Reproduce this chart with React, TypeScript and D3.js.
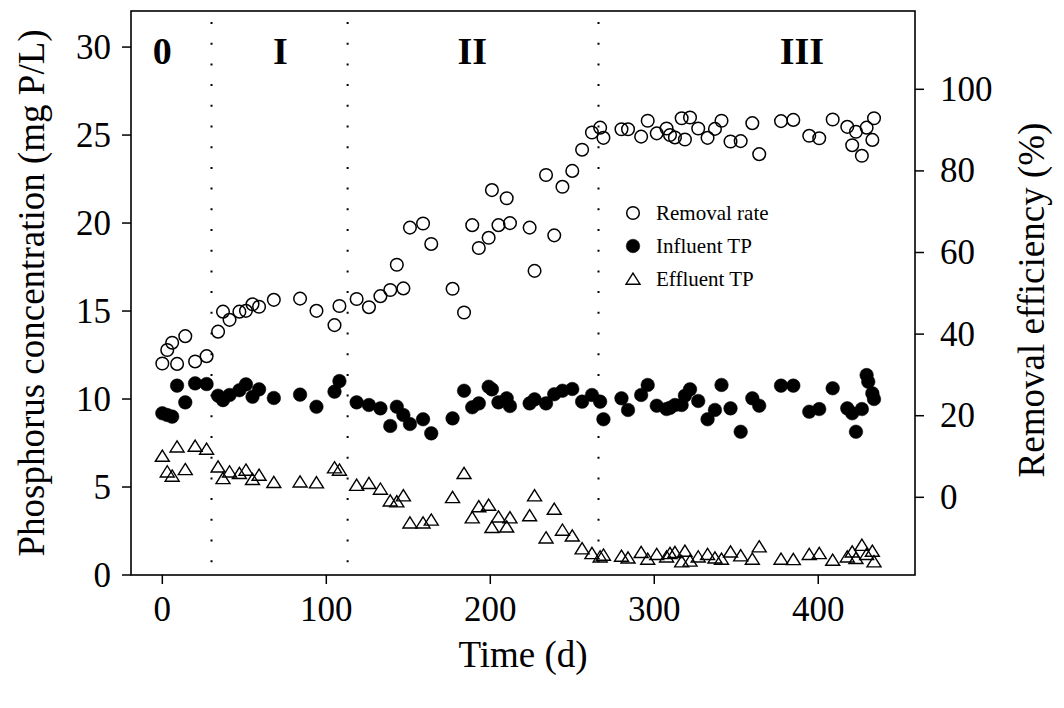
import React from "react";
import * as d3 from "d3";

const days = [0, 3, 6, 9, 14, 20, 27, 34, 37, 41, 47, 51, 55, 59, 68, 84, 94, 105, 108, 118.5,
  126, 133, 139, 143, 147, 151, 159, 164, 177, 184, 189, 193, 199, 201, 205, 210, 212, 224, 227, 234,
  239, 244, 250, 256, 262, 267, 269, 280, 284, 292, 296, 301.5, 307.5, 309.6, 312.6, 316.7, 318.7, 321.8, 326.8, 332.5,
  337, 341, 346.5, 352.7, 359.8, 364, 377.3, 384.8, 394.5, 400.6, 408.8, 417.7, 420.7, 423, 426.6, 429.5, 430.5, 433, 434];

const removalRate = [32.8, 36.1, 37.9, 32.7, 39.5, 33.3, 34.6, 40.6, 45.5, 43.5, 45.5, 45.7, 47.3, 46.7, 48.4, 48.7, 45.7, 42.2, 46.9, 48.6,
  46.6, 49.3, 50.8, 57.0, 51.2, 66.1, 67.1, 62.1, 51.1, 45.3, 66.7, 61.1, 63.6, 75.3, 66.7, 73.3, 67.2, 66.1, 55.5, 79.0,
  64.2, 76.1, 80.0, 85.2, 89.4, 90.6, 88.1, 90.2, 90.2, 88.4, 92.3, 89.2, 90.4, 88.8, 88.2, 92.9, 87.7, 93.1, 90.4, 88.1,
  90.3, 92.3, 87.2, 87.3, 91.7, 84.1, 92.2, 92.5, 88.6, 88.0, 92.6, 90.8, 86.3, 89.6, 83.7, 90.6, NaN, 87.6, 92.9];

const influentTP = [9.19, 9.09, 9.0, 10.76, 9.81, 10.89, 10.85, 10.19, 9.94, 10.23, 10.5, 10.83, 10.13, 10.55, 10.06, 10.25, 9.56, 10.42, 11.02, 9.81,
  9.66, 9.47, 8.47, 9.56, 9.09, 8.58, 8.85, 8.05, 8.9, 10.47, 9.53, 9.75, 10.7, 10.55, 9.81, 10.04, 9.6, 9.75, 9.98, 9.75,
  10.27, 10.47, 10.57, 9.85, 10.23, 9.85, 8.85, 10.04, 9.38, 10.23, 10.8, 9.62, 9.43, 9.5, 9.66, 9.66, 10.19, 10.55, 9.89, 8.85,
  9.38, 10.8, 9.47, 8.14, 10.04, 9.62, 10.76, 10.76, 9.28, 9.43, 10.61, 9.47, 9.19, 8.14, 9.43, 11.36, 10.98, 10.32, 10.0];

const effluentTP = [6.76, 5.87, 5.63, 7.29, 6.0, 7.33, 7.16, 6.15, 5.49, 5.87, 5.78, 5.97, 5.44, 5.68, 5.27, 5.3, 5.25, 6.1, 5.97, 5.11,
  5.21, 4.89, 4.22, 4.17, 4.51, 2.97, 2.97, 3.13, 4.41, 5.78, 3.26, 3.89, 3.98, 2.71, 3.31, 2.74, 3.26, 3.38, 4.51, 2.12,
  3.75, 2.56, 2.23, 1.5, 1.23, 1.04, 1.14, 1.08, 0.98, 1.29, 0.91, 1.18, 1.04, 1.23, 1.29, 0.76, 1.36, 0.8, 1.04, 1.18,
  0.98, 0.91, 1.32, 1.1, 0.91, 1.61, 0.91, 0.89, 1.18, 1.23, 0.85, 1.04, 1.32, 0.95, 1.7, 1.18, NaN, 1.36, 0.76];

const phaseBounds = [30, 113, 266];
const phaseLabels = ["0", "I", "II", "III"];
const phaseLabelDays = [0, 72, 189, 390];
const xTicks = [0, 100, 200, 300, 400];
const yLeftTicks = [0, 5, 10, 15, 20, 25, 30];
const yRightTicks = [0, 20, 40, 60, 80, 100];
const legendLabels = ["Removal rate", "Influent TP", "Effluent TP"];

const FONT = "'Times New Roman', 'Liberation Serif', serif";

const W = 1064, H = 708;
const L = 131, R = 915, T = 11, B = 575;

function Marker({ kind, x, y }: { kind: number; x: number; y: number }) {
  if (kind === 0) return <circle cx={x} cy={y} r={6.3} fill="none" stroke="#000" strokeWidth={1.5} />;
  if (kind === 1) return <circle cx={x} cy={y} r={6.8} fill="#000" stroke="#000" strokeWidth={0.5} />;
  const s = 7;
  const p = d3.path();
  p.moveTo(x, y - s * 0.85);
  p.lineTo(x + s, y + s * 0.75);
  p.lineTo(x - s, y + s * 0.75);
  p.closePath();
  return <path d={p.toString()} fill="none" stroke="#000" strokeWidth={1.4} />;
}

export default function App() {
  const x = d3.scaleLinear().domain([-19.1, 459]).range([L, R]);
  const yL = d3.scaleLinear().domain([0, 32.05]).range([B, T]);
  const yR = d3.scaleLinear().domain([-19.04, 119.19]).range([B, T]);

  const tickFont = 35;

  return (
    <svg width={W} height={H} style={{ position: "absolute", left: 0, top: 0, background: "#fff" }} fontFamily={FONT}>
      <rect x={0} y={0} width={W} height={H} fill="#fff" />
      {/* phase dividers */}
      {phaseBounds.map((d) => (
        <line key={d} x1={x(d)} x2={x(d)} y1={T + 11} y2={B} stroke="#000" strokeWidth={2} strokeDasharray="2 18.7" />
      ))}
      {phaseLabels.map((t, i) => (
        <text key={t} x={x(phaseLabelDays[i])} y={yL(29.75)} textAnchor="middle" dominantBaseline="central"
          fontSize={38} fontWeight="bold">{t}</text>
      ))}
      {/* frame */}
      <rect x={L} y={T} width={R - L} height={B - T} fill="none" stroke="#000" strokeWidth={1.6} />
      {/* bottom axis */}
      {xTicks.map((t) => (
        <g key={t}>
          <line x1={x(t)} x2={x(t)} y1={B} y2={B + 9} stroke="#000" strokeWidth={1.5} />
          <text x={x(t)} y={B + 46} textAnchor="middle" fontSize={tickFont}>{t}</text>
        </g>
      ))}
      {/* left axis */}
      {yLeftTicks.map((t) => (
        <g key={t}>
          <line x1={L - 9} x2={L} y1={yL(t)} y2={yL(t)} stroke="#000" strokeWidth={1.5} />
          <text x={L - 20} y={yL(t)} textAnchor="end" dominantBaseline="central" fontSize={tickFont}>{t}</text>
        </g>
      ))}
      {/* right axis */}
      {yRightTicks.map((t) => (
        <g key={t}>
          <line x1={R} x2={R + 9} y1={yR(t)} y2={yR(t)} stroke="#000" strokeWidth={1.5} />
          <text x={R + 25} y={yR(t)} textAnchor="start" dominantBaseline="central" fontSize={tickFont}>{t}</text>
        </g>
      ))}
      {/* axis titles */}
      <text x={(L + R) / 2} y={667} textAnchor="middle" fontSize={37}>Time (d)</text>
      <text transform={`translate(31, ${(T + B) / 2}) rotate(-90)`} textAnchor="middle" dominantBaseline="central" fontSize={37}>
        Phosphorus concentration (mg P/L)
      </text>
      <text transform={`translate(1031, 300) rotate(-90)`} textAnchor="middle" dominantBaseline="central" fontSize={37}>
        Removal efficiency (%)
      </text>
      {/* data */}
      {days.map((d, i) => isNaN(effluentTP[i]) ? null : <Marker key={"e" + i} kind={2} x={x(d)} y={yL(effluentTP[i])} />)}
      {days.map((d, i) => isNaN(influentTP[i]) ? null : <Marker key={"i" + i} kind={1} x={x(d)} y={yL(influentTP[i])} />)}
      {days.map((d, i) => isNaN(removalRate[i]) ? null : <Marker key={"r" + i} kind={0} x={x(d)} y={yR(removalRate[i])} />)}
      {/* legend */}
      {legendLabels.map((t, i) => (
        <g key={t}>
          <Marker kind={i} x={633} y={213 + i * 33} />
          <text x={656} y={213 + i * 33} dominantBaseline="central" fontSize={21}>{t}</text>
        </g>
      ))}
    </svg>
  );
}
